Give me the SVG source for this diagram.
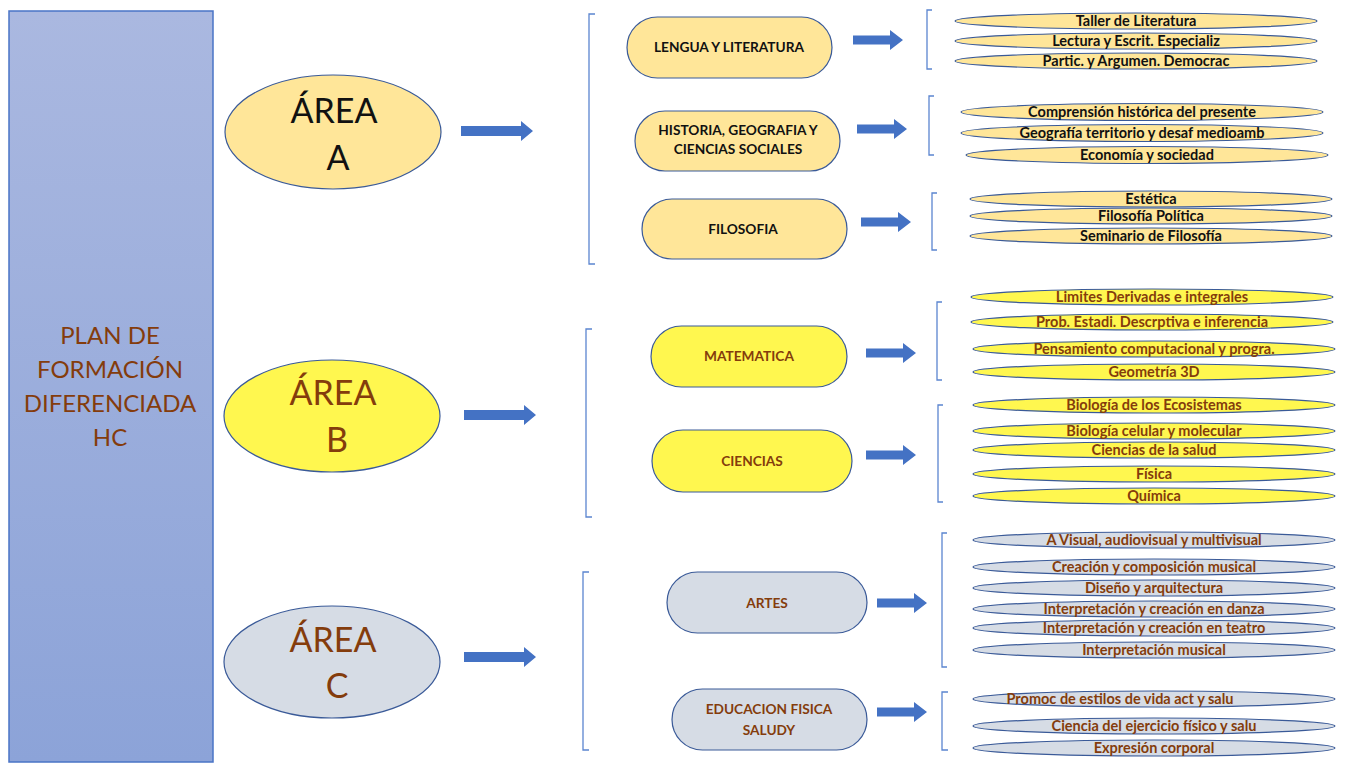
<svg xmlns="http://www.w3.org/2000/svg" width="1351" height="763" viewBox="0 0 1351 763">
<defs>
<linearGradient id="gl" x1="0" y1="0" x2="0" y2="1">
<stop offset="0" stop-color="#aab8e0"/>
<stop offset="1" stop-color="#8ca3d8"/>
</linearGradient>
<path id="bigArrow" d="M0,-5 H60 V-10 L72,0 L60,10 V5 H0 Z"/>
<path id="smArrow" d="M0,-4.5 H37 V-10 L50,0 L37,10 V4.5 H0 Z"/>
</defs>
<style>
.arr{fill:#4472c4}
.br{fill:none;stroke:#5b85d0;stroke-width:1.3}
.ya{fill:#ffe699;stroke:#3a5a98;stroke-width:1.2}
.yb{fill:#fff74f;stroke:#3a5a98;stroke-width:1.2}
.gc{fill:#d6dce5;stroke:#3a5a98;stroke-width:1.2}
.big{font-family:Lato,"Open Sans","Liberation Sans",sans-serif;font-size:34px;text-anchor:middle}
.sub{font-family:Lato,"Open Sans","Liberation Sans",sans-serif;font-size:13.7px;font-weight:bold;text-anchor:middle}
.leaf{font-family:Lato,"Open Sans","Liberation Sans",sans-serif;font-size:14.5px;font-weight:bold;text-anchor:middle}
.pl{font-family:Lato,"Open Sans","Liberation Sans",sans-serif;font-size:24px;text-anchor:middle;fill:#843c0c}
.k{fill:#111}
.b{fill:#843c0c}
</style>

<g id="plan">
<rect x="9" y="11" width="204" height="751" fill="url(#gl)" stroke="#4a74c6" stroke-width="1.5"/>
<text x="110" y="344" class="pl">PLAN DE</text>
<text x="110" y="378" class="pl">FORMACIÓN</text>
<text x="110" y="412" class="pl">DIFERENCIADA</text>
<text x="110" y="446" class="pl">HC</text>
</g>

<g id="areaA">
<ellipse cx="333" cy="132" rx="108" ry="57" class="ya"/>
<text x="334" y="123" class="big k">ÁREA</text>
<text x="338" y="170" class="big k">A</text>
</g>
<g id="areaB">
<ellipse cx="332" cy="416" rx="108" ry="56" class="yb"/>
<text x="333" y="405" class="big b">ÁREA</text>
<text x="337" y="452" class="big b">B</text>
</g>
<g id="areaC">
<ellipse cx="332" cy="662" rx="108" ry="56" class="gc"/>
<text x="333" y="652" class="big b">ÁREA</text>
<text x="337" y="698" class="big b">C</text>
</g>

<g id="subjects">
<g id="lengua"><rect x="627" y="17" width="205" height="61" rx="30.5" class="ya"/><text x="729" y="52" class="sub k">LENGUA Y LITERATURA</text></g>
<g id="historia"><rect x="635" y="111" width="205" height="60" rx="30" class="ya"/><text x="738" y="135" class="sub k">HISTORIA, GEOGRAFIA Y</text><text x="738" y="154" class="sub k">CIENCIAS SOCIALES</text></g>
<g id="filosofia"><rect x="642" y="199" width="205" height="60" rx="30" class="ya"/><text x="743" y="234" class="sub k">FILOSOFIA</text></g>
<g id="matematica"><rect x="651" y="326" width="196" height="61" rx="30.5" class="yb"/><text x="749" y="361" class="sub b">MATEMATICA</text></g>
<g id="ciencias"><rect x="652" y="430" width="200" height="62" rx="31" class="yb"/><text x="752" y="466" class="sub b">CIENCIAS</text></g>
<g id="artes"><rect x="667" y="572" width="200" height="61" rx="30.5" class="gc"/><text x="767" y="608" class="sub b">ARTES</text></g>
<g id="edfisica"><rect x="672" y="689" width="195" height="61" rx="30.5" class="gc"/><text x="769" y="714" class="sub b">EDUCACION FISICA</text><text x="769" y="735" class="sub b">SALUDY</text></g>
</g>

<g id="leaves">
<g class="leafA">
<ellipse cx="1136" cy="21" rx="181" ry="8" class="ya"/><text x="1136" y="26" class="leaf k">Taller de Literatura</text>
<ellipse cx="1136" cy="41" rx="181" ry="8" class="ya"/><text x="1136" y="46" class="leaf k">Lectura y Escrit. Especializ</text>
<ellipse cx="1136" cy="61" rx="181" ry="8" class="ya"/><text x="1136" y="66" class="leaf k">Partic. y Argumen. Democrac</text>
<ellipse cx="1142" cy="112" rx="181" ry="8.5" class="ya"/><text x="1142" y="117" class="leaf k">Comprensión histórica del presente</text>
<ellipse cx="1142" cy="133" rx="181" ry="8.5" class="ya"/><text x="1142" y="138" class="leaf k">Geografía territorio y desaf medioamb</text>
<ellipse cx="1147" cy="155" rx="181" ry="8.5" class="ya"/><text x="1147" y="160" class="leaf k">Economía y sociedad</text>
<ellipse cx="1151" cy="199" rx="181" ry="8" class="ya"/><text x="1151" y="204" class="leaf k">Estética</text>
<ellipse cx="1151" cy="216" rx="181" ry="8" class="ya"/><text x="1151" y="221" class="leaf k">Filosofía Política</text>
<ellipse cx="1151" cy="236" rx="181" ry="8" class="ya"/><text x="1151" y="241" class="leaf k">Seminario de Filosofía</text>
</g>
<g class="leafB">
<ellipse cx="1152" cy="297" rx="181" ry="8" class="yb"/><text x="1152" y="302" class="leaf b">Limites Derivadas e integrales</text>
<ellipse cx="1152" cy="322" rx="181" ry="8" class="yb"/><text x="1152" y="327" class="leaf b">Prob. Estadi. Descrptiva e inferencia</text>
<ellipse cx="1154" cy="349" rx="181" ry="8" class="yb"/><text x="1154" y="354" class="leaf b">Pensamiento computacional y progra.</text>
<ellipse cx="1154" cy="372" rx="181" ry="8" class="yb"/><text x="1154" y="377" class="leaf b">Geometría 3D</text>
<ellipse cx="1154" cy="405" rx="181" ry="8" class="yb"/><text x="1154" y="410" class="leaf b">Biología de los Ecosistemas</text>
<ellipse cx="1154" cy="431" rx="181" ry="8" class="yb"/><text x="1154" y="436" class="leaf b">Biología celular y molecular</text>
<ellipse cx="1154" cy="450" rx="181" ry="8" class="yb"/><text x="1154" y="455" class="leaf b">Ciencias de la salud</text>
<ellipse cx="1154" cy="474" rx="181" ry="8" class="yb"/><text x="1154" y="479" class="leaf b">Física</text>
<ellipse cx="1154" cy="496" rx="181" ry="8" class="yb"/><text x="1154" y="501" class="leaf b">Química</text>
</g>
<g class="leafC">
<ellipse cx="1154" cy="540" rx="181" ry="8" class="gc"/><text x="1154" y="545" class="leaf b">A Visual, audiovisual y multivisual</text>
<ellipse cx="1154" cy="567" rx="181" ry="8" class="gc"/><text x="1154" y="572" class="leaf b">Creación y composición musical</text>
<ellipse cx="1154" cy="588" rx="181" ry="8" class="gc"/><text x="1154" y="593" class="leaf b">Diseño y arquitectura</text>
<ellipse cx="1154" cy="609" rx="181" ry="8" class="gc"/><text x="1154" y="614" class="leaf b">Interpretación y creación en danza</text>
<ellipse cx="1154" cy="628" rx="181" ry="8" class="gc"/><text x="1154" y="633" class="leaf b">Interpretación y creación en teatro</text>
<ellipse cx="1154" cy="650" rx="181" ry="8" class="gc"/><text x="1154" y="655" class="leaf b">Interpretación musical</text>
<ellipse cx="1154" cy="699" rx="181" ry="8" class="gc"/><text x="1120" y="704" class="leaf b">Promoc de estilos de vida act y salu</text>
<ellipse cx="1154" cy="726" rx="181" ry="8" class="gc"/><text x="1154" y="731" class="leaf b">Ciencia del ejercicio físico y salu</text>
<ellipse cx="1154" cy="748" rx="181" ry="8" class="gc"/><text x="1154" y="753" class="leaf b">Expresión corporal</text>
</g>
</g>

<g id="connectors">
<use href="#bigArrow" x="461" y="131" class="arr"/>
<use href="#bigArrow" x="464" y="415" class="arr"/>
<use href="#bigArrow" x="464" y="657" class="arr"/>
<use href="#smArrow" x="853" y="40" class="arr"/>
<use href="#smArrow" x="857" y="129" class="arr"/>
<use href="#smArrow" x="861" y="222" class="arr"/>
<use href="#smArrow" x="866" y="353" class="arr"/>
<use href="#smArrow" x="866" y="455" class="arr"/>
<use href="#smArrow" x="877" y="603" class="arr"/>
<use href="#smArrow" x="877" y="712" class="arr"/>
<path class="br" d="M595,14 H589 V264 H595"/>
<path class="br" d="M592,329 H586 V517 H592"/>
<path class="br" d="M589,572 H583 V750 H589"/>
<path class="br" d="M932,10 H927 V69 H932"/>
<path class="br" d="M934,96 H929 V155 H934"/>
<path class="br" d="M937,193 H932 V250 H937"/>
<path class="br" d="M942,302 H937 V380 H942"/>
<path class="br" d="M943,405 H938 V502 H943"/>
<path class="br" d="M947,533 H942 V667 H947"/>
<path class="br" d="M948,692 H942 V750 H948"/>
</g>
</svg>
